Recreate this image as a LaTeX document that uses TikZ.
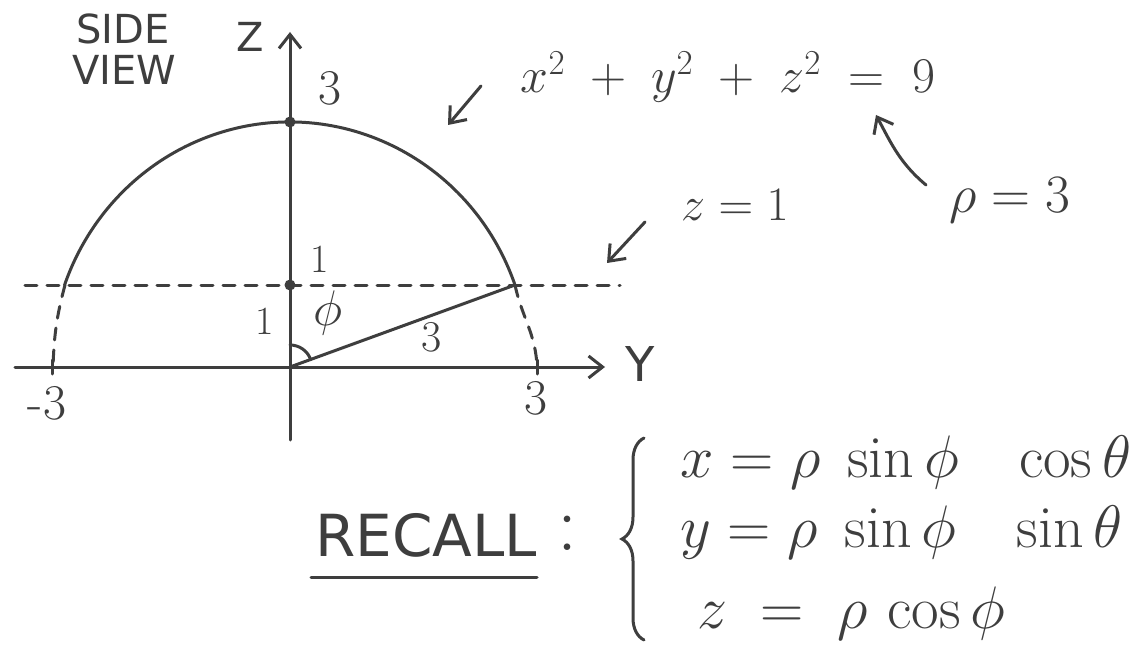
\RequirePackage{fix-cm}
\documentclass[tikz,border=0pt]{standalone}
\usepackage{amsmath}
\usepackage{fontspec}
\newfontfamily\handfont{DejaVu Sans}
\usetikzlibrary{arrows.meta,decorations.pathreplacing}
\definecolor{ink}{HTML}{3E3E3E}
\tikzset{
  ink/.style={draw=ink, line width=3pt, line cap=round},
  dashink/.style={ink, dash pattern=on 12pt off 10pt},
  numlbl/.style={text=ink, inner sep=0pt, font=\fontsize{50}{54}\selectfont},
  onelbl/.style={text=ink, inner sep=0pt, font=\fontsize{40}{44}\selectfont},
  biglbl/.style={text=ink, inner sep=0pt, font=\fontsize{48}{54}\selectfont},
  eqlbl/.style={text=ink, inner sep=0pt, font=\fontsize{60}{66}\selectfont},
  hand/.style={text=ink, inner sep=0pt, font=\handfont\fontsize{40}{44}\selectfont},
  tip/.style={-{Straight Barb[length=14pt,width=22pt,line width=3pt]}},
  dot/.style={circle, fill=ink, inner sep=0pt, minimum size=11pt}
}
\begin{document}
\begin{tikzpicture}[x=1pt,y=1pt]
\useasboundingbox (-290,-278) rectangle (849,367);
\fill[white] (-290,-278) rectangle (849,367);
% axes
\coordinate (O) at (0,0);
\coordinate (Ys) at (-275,0);
\coordinate (Ye) at (315,0);
\coordinate (Zs) at (0,-73);
\coordinate (Ze) at (0,335);
\draw[ink,tip] (Ys) -- (Ye);
\draw[ink,tip] (Zs) -- (Ze);
\node[hand, font=\handfont\fontsize{48}{52}\selectfont] (Ylab) at (350,3) {Y};
\node[hand] (Zlab) at (-40,330) {Z};
\node[hand] (side) at (-167,338) {SIDE};
\node[hand] (view) at (-166,297) {VIEW};
% sphere section (hand-drawn, slightly elliptic)
\coordinate (R) at (225,82);
\coordinate (L) at (-225,82);
\coordinate (Rb) at (247,0);
\coordinate (Lb) at (-237,0);
\draw[ink] (R) arc[start angle=19.55, end angle=160.45, x radius=239, y radius=245];
\draw[dashink] (R) to[out=-78, in=92] (Rb);
\draw[dashink] (L) to[out=-105, in=88] (Lb);
\draw[ink] ([yshift=-7pt]Rb) -- ([yshift=7pt]Rb);
\draw[ink] ([yshift=-7pt]Lb) -- ([yshift=7pt]Lb);
% z = 1 plane
\coordinate (Pl) at (-265,82);
\coordinate (Pr) at (330,82);
\draw[dashink] (Pl) -- (Pr);
\node[dot] (P1) at (0,82) {};
\node[dot] (P3) at (0,245) {};
\draw[ink] (O) -- (R);
\draw[ink] (0,22) arc[start angle=90, end angle=20, radius=22];
% labels
\node[numlbl] (l3top) at (40,279) {3};
\node[onelbl] (l1top) at (30,108) {1};
\node[onelbl] (l1left) at (-25,46) {1};
\node[numlbl] (phi) at (38,54) {$\phi$};
\node[onelbl, font=\fontsize{44}{48}\selectfont] (l3r) at (142,30) {3};
\node[numlbl] (lm3) at (-243,-36) {-3};
\node[numlbl] (lp3) at (246,-31) {3};
% equations
\node[biglbl, font=\fontsize{50}{56}\selectfont] (sph) at (438,290) {$x^2\;+\;y^2\;+\;z^2\;=\;9$};
\coordinate (a1s) at (191,281);
\coordinate (a1e) at (158,242);
\draw[ink,tip] (a1s) -- (a1e);
\node[text=ink, inner sep=0pt, font=\fontsize{54}{60}\selectfont] (rho) at (720,167) {$\rho=3$};
\coordinate (a2s) at (636,182);
\coordinate (a2e) at (586,252);
\draw[ink,tip] (a2s) to[out=140,in=-62] (a2e);
\node[biglbl] (z1) at (445,162) {$z=1$};
\coordinate (a3s) at (355,145);
\coordinate (a3e) at (317,104);
\draw[ink,tip] (a3s) -- (a3e);
% recall
\node[hand, font=\handfont\fontsize{58}{62}\selectfont] (recall) at (136,-168) {RECALL};
\coordinate (ul) at (21,-210);
\coordinate (ur) at (247,-210);
\draw[ink] (ul) -- (ur);
\node[text=ink, inner sep=0pt, font=\fontsize{80}{86}\selectfont] (colon) at (277,-166) {:};
\coordinate (bb) at (354,-273);
\coordinate (bt) at (354,-71);
\draw[ink, decorate, decoration={brace, amplitude=22pt}] (bb) -- (bt);
\node[eqlbl, anchor=west] (ex) at (390,-95) {$x=\rho\;\sin\phi\;\;\;\cos\theta$};
\node[eqlbl, anchor=west] (ey) at (390,-165) {$y=\rho\;\sin\phi\;\;\;\sin\theta$};
\node[eqlbl, anchor=west] (ez) at (407,-246) {$z\;=\;\rho\,\cos\phi$};
\end{tikzpicture}
\end{document}
